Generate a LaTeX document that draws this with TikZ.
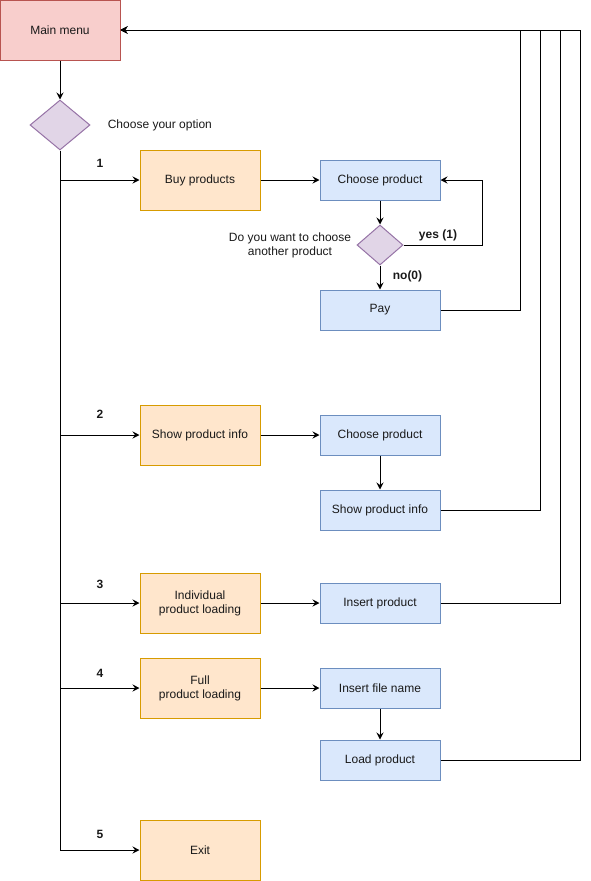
\documentclass[tikz,border=0pt]{standalone}
\usepackage{fontspec}
\setmainfont{Liberation Sans}
\usepackage{xcolor}
\usetikzlibrary{arrows.meta,shapes.geometric}

\definecolor{menufill}{HTML}{F8CECC}
\definecolor{menuline}{HTML}{B85450}
\definecolor{askfill}{HTML}{E1D5E7}
\definecolor{askline}{HTML}{9673A6}
\definecolor{optfill}{HTML}{FFE6CC}
\definecolor{optline}{HTML}{D79B00}
\definecolor{stepfill}{HTML}{DAE8FC}
\definecolor{stepline}{HTML}{6C8EBF}

\begin{document}
\begin{tikzpicture}[x=1pt,y=-1pt,line width=1pt,
    font=\fontsize{12}{14}\selectfont, text=black!90,
    menubox/.style={draw=menuline,fill=menufill,minimum width=120pt,minimum height=60pt,inner sep=0pt},
    askbox/.style={diamond,draw=askline,fill=askfill,inner sep=0pt},
    optbox/.style={draw=optline,fill=optfill,minimum width=120pt,minimum height=60pt,inner sep=0pt,align=center},
    stepbox/.style={draw=stepline,fill=stepfill,minimum width=120pt,minimum height=40pt,inner sep=0pt},
    flow/.style={-{Stealth[length=7pt,width=7pt,inset=2.5pt]}},
    num/.style={font=\fontsize{12}{14}\selectfont\bfseries}]
    \useasboundingbox (0,0) rectangle (590,881);

    % Main menu
    \node[menubox] (menu) at (60,30) {Main menu};
    \node[askbox,minimum width=60pt,minimum height=50pt] (ask) at (60,125) {};
    \node[anchor=west] (asktxt) at (104,125) {Choose your option};
    \draw[flow] (menu) -- (ask);

    % Option 1
    \node[optbox] (buy) at (200,180) {Buy products};
    \node[stepbox] (choose1) at (380,180) {Choose product};
    \node[askbox,minimum width=46pt,minimum height=40pt] (more) at (380,245) {};
    \node[align=center] (moretxt) at (290,245) {Do you want to choose\\another product};
    \node[stepbox] (pay) at (380,310) {Pay};
    \draw[flow] (buy) -- (choose1);
    \draw[flow] (choose1) -- (more);
    \draw[flow] (more) -- (pay) node[num,pos=0.45,right=9pt] (no) {no(0)};
    \draw[flow] (more.east) -- (482,245) |- (choose1.east);
    \node[num] (yes) at (438,235) {yes (1)};

    % Option 2
    \node[optbox] (show) at (200,435) {Show product info};
    \node[stepbox] (choose2) at (380,435) {Choose product};
    \node[stepbox] (info) at (380,510) {Show product info};
    \draw[flow] (show) -- (choose2);
    \draw[flow] (choose2) -- (info);

    % Option 3
    \node[optbox] (single) at (200,603) {Individual\\product loading};
    \node[stepbox] (insert) at (380,603) {Insert product};
    \draw[flow] (single) -- (insert);

    % Option 4
    \node[optbox] (full) at (200,688) {Full\\product loading};
    \node[stepbox] (fname) at (380,688) {Insert file name};
    \node[stepbox] (load) at (380,760) {Load product};
    \draw[flow] (full) -- (fname);
    \draw[flow] (fname) -- (load);

    % Option 5
    \node[optbox] (exit) at (200,850) {Exit};

    % Branches
    \draw[flow] (ask.south) |- (exit.west);
    \draw[flow] (ask.south |- buy.west) -- (buy.west);
    \draw[flow] (ask.south |- show.west) -- (show.west);
    \draw[flow] (ask.south |- single.west) -- (single.west);
    \draw[flow] (ask.south |- full.west) -- (full.west);
    \node[num] (n1) at (100,163) {1};
    \node[num] (n2) at (100,414) {2};
    \node[num] (n3) at (100,584) {3};
    \node[num] (n4) at (100,673) {4};
    \node[num] (n5) at (100,834) {5};

    % Back to main menu
    \coordinate (back1) at (520,30);
    \coordinate (back2) at (540,30);
    \coordinate (back3) at (560,30);
    \coordinate (back4) at (580,30);
    \draw[flow] (pay.east) -| (back1) -- (menu.east);
    \draw[flow] (info.east) -| (back2) -- (menu.east);
    \draw[flow] (insert.east) -| (back3) -- (menu.east);
    \draw[flow] (load.east) -| (back4) -- (menu.east);
\end{tikzpicture}
\end{document}
